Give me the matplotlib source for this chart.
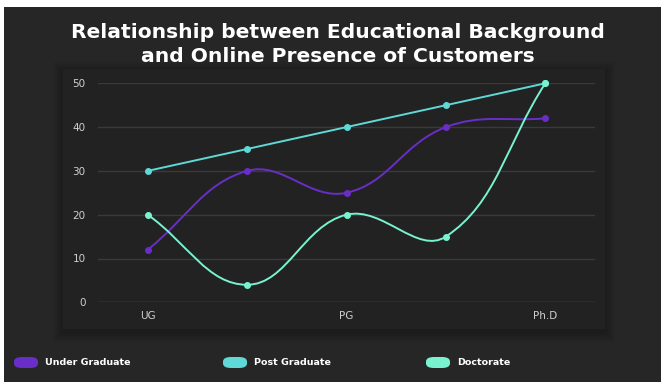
import numpy as np
import matplotlib
matplotlib.use("Agg")
import matplotlib.pyplot as plt
from matplotlib.path import Path
from matplotlib.patches import PathPatch, FancyBboxPatch, Rectangle

categories = ["UG", "", "PG", "", "Ph.D"]
under_grad = [12, 30, 25, 40, 42]
post_grad = [30, 35, 40, 45, 50]
doctorate = [20, 4, 20, 15, 50]
series_names = ["Under Graduate", "Post Graduate", "Doctorate"]
colors = ["#6a2ec8", "#5fd8d8", "#79f2d0"]
tensions = [0.4, 0.0, 0.4]
yticks = [0, 10, 20, 30, 40, 50]

W, H = 661, 382
fig = plt.figure(figsize=(W / 100, H / 100), dpi=100)
fig.patch.set_facecolor("white")

def px_rect(x0, y0, x1, y1, **kw):
    # rectangle given in pixel coords from top-left
    r = Rectangle((x0 / W, 1 - y1 / H), (x1 - x0) / W, (y1 - y0) / H,
                  transform=fig.transFigure, **kw)
    fig.patches.append(r)

# dark page background with a thin white border top/left
px_rect(4, 7, W, H, facecolor="#262626", edgecolor="none", zorder=0)
# soft shadow + panel behind the plot
for d in range(10, 0, -2):
    px_rect(63 - d, 69 - d + 3, 605 + d, 329 + d + 3, facecolor="black",
            edgecolor="none", alpha=0.035, zorder=0.1)
px_rect(63, 69, 605, 329, facecolor="#222222", edgecolor="none", zorder=0.2)

fig.text(338 / W, 1 - 32 / H, "Relationship between Educational Background",
         ha="center", va="center", color="white", fontsize=14.6,
         fontweight="bold", family="DejaVu Sans")
fig.text(338 / W, 1 - 56 / H, "and Online Presence of Customers",
         ha="center", va="center", color="white", fontsize=14.6,
         fontweight="bold", family="DejaVu Sans")

ax = fig.add_axes([98 / W, 1 - 302.3 / H, (595 - 98) / W, (302.3 - 83.3) / H])
ax.set_zorder(1)
ax.set_facecolor("none")
x = np.arange(len(categories))
ax.set_xlim(-0.5, len(categories) - 0.5)
ax.set_ylim(0, 50)
ax.set_xticks(x)
ax.set_xticklabels(categories)
ax.set_yticks(yticks)
for s in ax.spines.values():
    s.set_visible(False)
ax.tick_params(length=0, colors="#cfcfcf", labelsize=7.5, pad=6)
ax.tick_params(axis="y", pad=9)
for t in yticks:
    ax.axhline(t, color="#5a5a5a" if t == 0 else "#3a3a3a", lw=1, zorder=1)

fig.canvas.draw()

def spline_path(xs, ys, tension):
    # chart.js style bezier, control points computed in pixel space
    pts = ax.transData.transform(np.column_stack([xs, ys]))
    n = len(pts)
    cps = []
    for i in range(n):
        cur = pts[i]
        prev = pts[i - 1] if i > 0 else cur
        nxt = pts[i + 1] if i < n - 1 else cur
        d01 = np.hypot(*(cur - prev))
        d12 = np.hypot(*(nxt - cur))
        tot = d01 + d12
        s01 = d01 / tot if tot else 0
        s12 = d12 / tot if tot else 0
        cps.append((cur - tension * s01 * (nxt - prev),
                    cur + tension * s12 * (nxt - prev)))
    verts = [pts[0]]
    codes = [Path.MOVETO]
    for i in range(n - 1):
        verts += [cps[i][1], cps[i + 1][0], pts[i + 1]]
        codes += [Path.CURVE4] * 3
    verts = ax.transData.inverted().transform(np.array(verts))
    return Path(verts, codes)

for vals, c, t in zip([under_grad, post_grad, doctorate], colors, tensions):
    ax.add_patch(PathPatch(spline_path(x, vals, t), facecolor="none",
                           edgecolor=c, lw=1.4, zorder=3))
    ax.plot(x, vals, "o", color=c, ms=4, zorder=4, clip_on=False)

# legend row
leg_x = [14, 223, 426]
for lx, name, c in zip(leg_x, series_names, colors):
    fig.patches.append(FancyBboxPatch((lx / W, 1 - 368 / H), 24 / W, 11 / H,
                                      boxstyle="round,pad=0,rounding_size=0.012",
                                      transform=fig.transFigure,
                                      facecolor=c, edgecolor="none", zorder=2))
    fig.text((lx + 31) / W, 1 - 362.5 / H, name, ha="left", va="center",
             color="white", fontsize=6.8, fontweight="bold")

fig.savefig("out.png", dpi=100)
